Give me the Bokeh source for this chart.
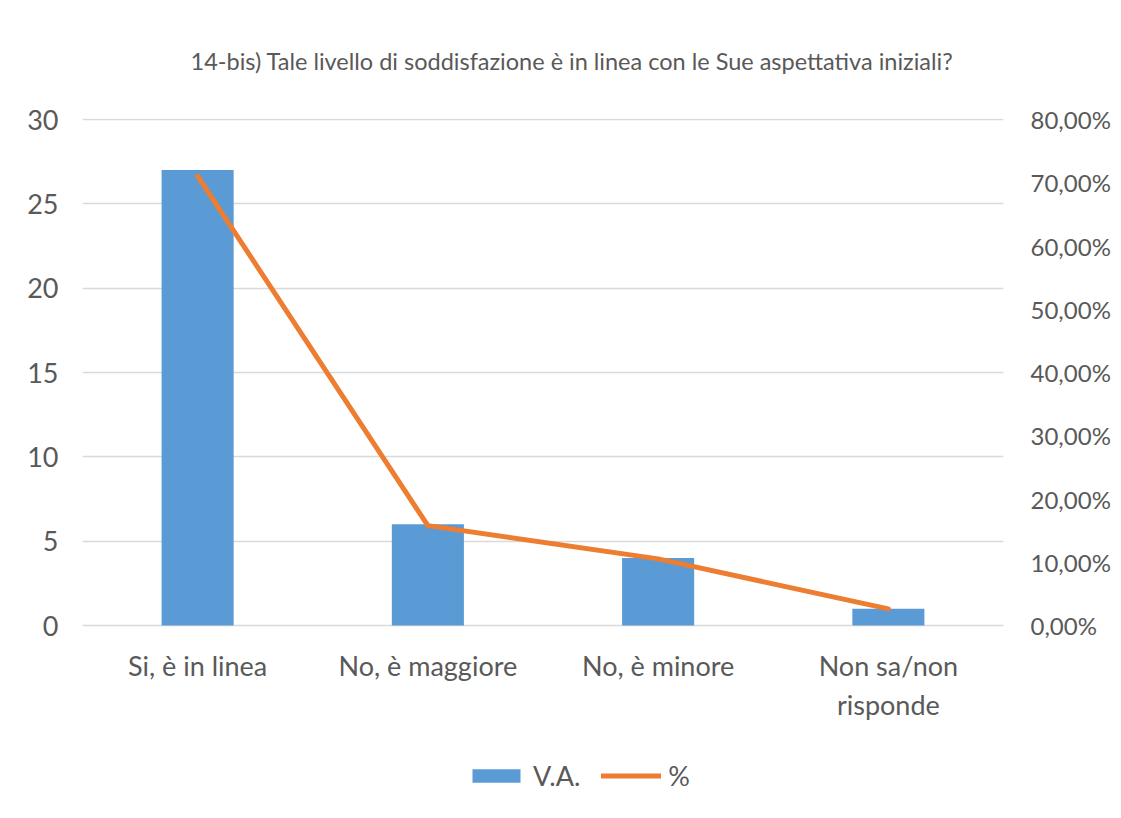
from bokeh.plotting import figure
from bokeh.models import (FactorRange, Range1d, LinearAxis, FixedTicker, Legend, LegendItem, Title)
from bokeh.core.properties import value
from bokeh.embed import file_html
from bokeh.resources import INLINE

categories = ["Si, è in linea", "No, è maggiore", "No, è minore", "Non sa/non\nrisponde"]
va_values = [27, 6, 4, 1]
pct_values = [71.05, 15.79, 10.53, 2.63]
left_ticks = [0, 5, 10, 15, 20, 25, 30]
right_ticks = [0, 10, 20, 30, 40, 50, 60, 70, 80]
right_labels = ["0,00%", "10,00%", "20,00%", "30,00%", "40,00%", "50,00%", "60,00%", "70,00%", "80,00%"]
title_text = "14-bis) Tale livello di soddisfazione è in linea con le Sue aspettativa iniziali?"

FONT = "Lato"
GRAY = "#595959"
BLUE = "#5B9BD5"
ORANGE = "#ED7D31"

# layout: plotting area for values 0..30 is 507 px tall; the frame extends
# below the zero line to host the category labels and the legend
Y_MAX = 30.06
VALUE_PX = 507
FRAME_H = 682
Y_MIN = -(FRAME_H - VALUE_PX) * Y_MAX / VALUE_PX

p = figure(x_range=FactorRange(factors=categories, range_padding=0),
           y_range=Range1d(Y_MIN, Y_MAX), x_axis_location=None,
           frame_width=921, frame_height=FRAME_H, output_backend="svg", toolbar_location=None,
           min_border_left=82, min_border_right=110, min_border_top=118, min_border_bottom=4)
p.extra_y_ranges = {"pct": Range1d(Y_MIN * 80 / 30, 80 * Y_MAX / 30)}

bars = p.vbar(x=categories, top=va_values, bottom=0, width=0.313, color=BLUE, line_color=None)
line = p.line(x=categories, y=pct_values, y_range_name="pct", line_color=ORANGE,
              line_width=5, line_cap="round", line_join="round")

# category labels under the zero line
p.text(x=categories, y=[0] * len(categories), text=categories, y_offset=23,
       text_align="center", text_baseline="top", text_font=value(FONT),
       text_font_size="27px", text_color=GRAY, text_line_height=1.2)

p.outline_line_color = None
p.background_fill_color = "white"
p.border_fill_color = "white"
p.xgrid.grid_line_color = None
p.ygrid.grid_line_color = "#D9D9D9"
p.ygrid.grid_line_width = 1.5
p.ygrid.ticker = FixedTicker(ticks=left_ticks)

yl = p.yaxis[0]
yl.ticker = FixedTicker(ticks=left_ticks)
yl.axis_line_color = None
yl.major_tick_line_color = None
yl.minor_tick_line_color = None
yl.major_label_text_font = FONT
yl.major_label_text_font_size = "27px"
yl.major_label_text_color = GRAY
yl.major_label_standoff = 18

yr = LinearAxis(y_range_name="pct", ticker=FixedTicker(ticks=right_ticks),
                major_label_overrides=dict(zip(right_ticks, right_labels)))
yr.axis_line_color = None
yr.major_tick_line_color = None
yr.minor_tick_line_color = None
yr.major_label_text_font = FONT
yr.major_label_text_font_size = "24px"
yr.major_label_text_color = GRAY
yr.major_label_standoff = 21
p.add_layout(yr, "right")

t = Title(text=title_text, align="left", offset=108, standoff=86, vertical_align="middle",
          text_font=FONT, text_font_size="23.5px", text_font_style="normal", text_color=GRAY)
p.add_layout(t, "above")

legend = Legend(items=[LegendItem(label="V.A.", renderers=[bars]),
                       LegendItem(label="%", renderers=[line])],
                orientation="horizontal", location=(384, 8))
legend.label_text_font = FONT
legend.label_text_font_size = "27px"
legend.label_text_color = GRAY
legend.glyph_width = 60
legend.glyph_height = 17
legend.label_standoff = 7
legend.spacing = 21
legend.padding = 0
legend.margin = 0
legend.border_line_color = None
legend.background_fill_alpha = 0
p.add_layout(legend)

open("out.html", "w").write(file_html(p, INLINE))
